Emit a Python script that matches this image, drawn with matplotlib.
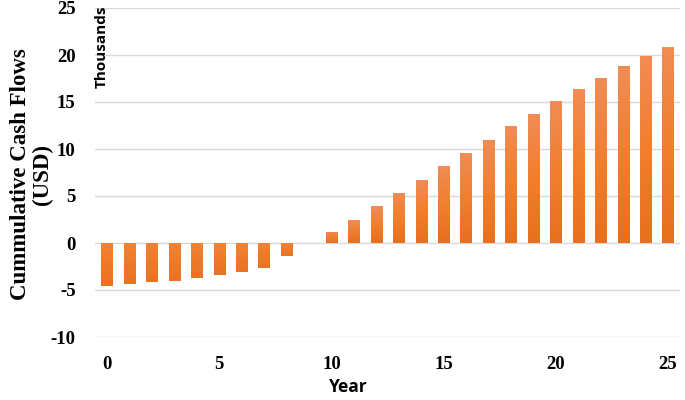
import numpy as np
import matplotlib
matplotlib.use('Agg')
import matplotlib.pyplot as plt
from matplotlib.colors import LinearSegmentedColormap

plt.rcParams['axes.unicode_minus'] = False

years = list(range(0, 26))
cash_flow_k = [-4.6, -4.4, -4.2, -4.0, -3.7, -3.4, -3.05, -2.65, -1.35, 0.0,
               1.2, 2.5, 3.9, 5.35, 6.7, 8.15, 9.55, 11.0, 12.4, 13.7,
               15.1, 16.4, 17.6, 18.8, 19.9, 20.8]
yticks = [-10, -5, 0, 5, 10, 15, 20, 25]
xticks = [0, 5, 10, 15, 20, 25]

serif = 'Liberation Serif'
sans = 'Open Sans'

fig = plt.figure(figsize=(6.85, 4.0), dpi=100)
ax = fig.add_axes([0.1387, 0.1575, 0.8540, 0.8225])

bars = ax.bar(years, cash_flow_k, width=0.5, color='#EE7D2E', zorder=2)

# soft vertical gradient on each bar, a bit lighter at the top
grad = LinearSegmentedColormap.from_list('org', ['#E8701F', '#F07F2E', '#F18C55'])
for b in bars:
    h = b.get_height()
    if h == 0:
        continue
    x0, w = b.get_x(), b.get_width()
    y0, y1 = min(0, h), max(0, h)
    lo = 0.0 if h > 0 else 0.1
    hi = 1.0 if h > 0 else 0.6
    img = ax.imshow(np.linspace(lo, hi, 64).reshape(-1, 1), cmap=grad,
                    vmin=0, vmax=1, origin='lower', aspect='auto',
                    extent=[x0, x0 + w, y0, y1], zorder=3)
    img.set_clip_path(b)

ax.set_xlim(-0.535, 25.535)
ax.set_ylim(-10, 25)
ax.set_yticks(yticks)
ax.set_xticks(xticks)
ax.grid(axis='y', color='#D9D9D9', linewidth=1.0, zorder=0)
ax.set_axisbelow(True)
for s in ax.spines.values():
    s.set_visible(False)
ax.tick_params(length=0)
ax.tick_params(axis='x', pad=14)
ax.tick_params(axis='y', pad=14)
for lab in ax.get_xticklabels() + ax.get_yticklabels():
    lab.set_fontfamily(serif)
    lab.set_fontweight('bold')
    lab.set_fontsize(13.5)

fig.text(0.046, 0.565, 'Cummulative Cash Flows\n(USD)', rotation=90,
         ha='center', va='center', fontsize=16.5, fontweight='bold',
         family=serif, linespacing=1.1)
fig.text(0.148, 0.985, 'Thousands', rotation=90, ha='center', va='top',
         fontsize=11, fontweight='bold', family=sans)
fig.text(0.508, 0.032, 'Year', ha='center', va='center',
         fontsize=12.5, fontweight='bold', family=sans)

fig.savefig('out.png', dpi=100)
